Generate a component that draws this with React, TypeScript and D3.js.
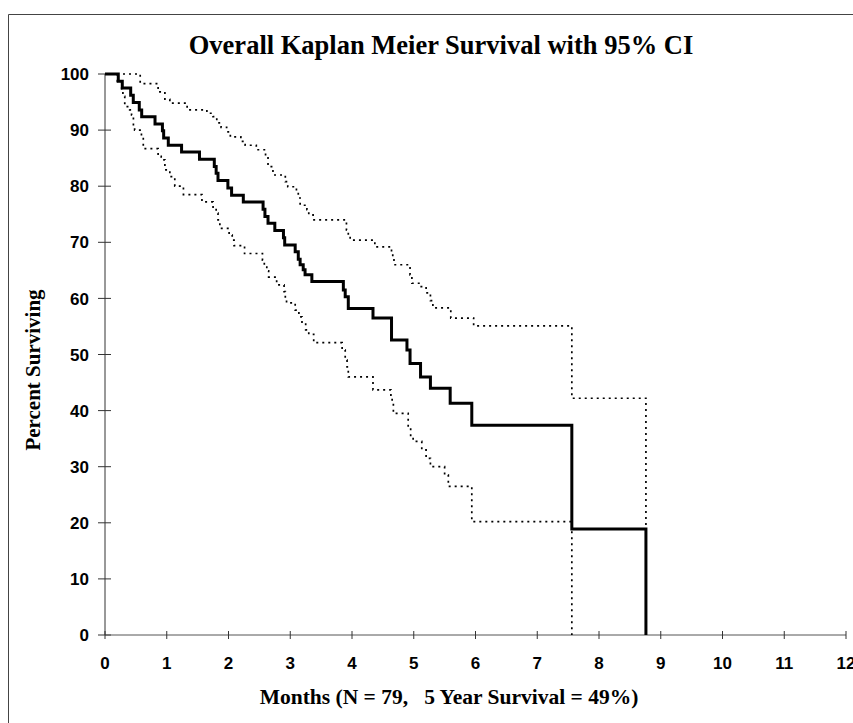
import React from "react";
import * as d3 from "d3";

// Kaplan-Meier estimate (months, percent surviving)
const kmTime = [0, 0.215, 0.28, 0.416, 0.458, 0.555, 0.594, 0.81, 0.93, 0.95, 1.025, 1.24, 1.53, 1.77, 1.8, 1.83, 1.99, 2.05, 2.24, 2.56, 2.59, 2.64, 2.75, 2.89, 2.91, 3.08, 3.13, 3.16, 3.21, 3.24, 3.35, 3.86, 3.89, 3.94, 4.34, 4.64, 4.89, 4.94, 5.11, 5.27, 5.59, 5.94, 7.56, 8.76];
const kmSurv = [100, 98.7, 97.5, 96.2, 94.9, 93.6, 92.4, 91.1, 89.9, 88.6, 87.3, 86.1, 84.8, 83.5, 82.3, 81.0, 79.7, 78.4, 77.2, 75.9, 74.6, 73.4, 72.1, 70.8, 69.5, 68.3, 67.0, 66.0, 65.1, 64.2, 63.0, 61.5, 60.3, 58.2, 56.5, 52.6, 50.8, 48.4, 46.0, 44.0, 41.3, 37.4, 18.9, 0];

// Upper 95% confidence limit
const upperTime = [0, 0.57, 0.86, 0.97, 1.05, 1.33, 1.65, 1.75, 1.81, 1.88, 1.97, 2.03, 2.2, 2.27, 2.45, 2.6, 2.64, 2.72, 2.92, 2.96, 3.1, 3.13, 3.16, 3.27, 3.3, 3.37, 3.91, 3.94, 3.97, 4.37, 4.64, 4.66, 4.68, 4.94, 4.97, 5.1, 5.2, 5.27, 5.31, 5.6, 5.97, 7.56, 8.76];
const upperSurv = [100, 98.3, 96.8, 95.5, 94.8, 93.6, 93.0, 92.4, 91.3, 90.5, 89.7, 88.8, 88.0, 87.3, 86.5, 85.3, 83.5, 82.0, 80.8, 79.9, 79.0, 77.9, 76.6, 75.8, 74.9, 74.0, 72.2, 71.3, 70.4, 69.2, 68.3, 67.2, 66.0, 64.2, 62.7, 62.1, 61.0, 59.6, 58.3, 56.5, 55.1, 42.2, 0];

// Lower 95% confidence limit
const lowerTime = [0, 0.2, 0.27, 0.29, 0.32, 0.4, 0.43, 0.46, 0.48, 0.59, 0.62, 0.86, 0.91, 0.97, 1.05, 1.13, 1.27, 1.57, 1.75, 1.8, 1.83, 1.86, 2.01, 2.06, 2.09, 2.26, 2.55, 2.58, 2.62, 2.65, 2.78, 2.9, 2.92, 2.94, 3.08, 3.14, 3.19, 3.25, 3.3, 3.38, 3.84, 3.89, 3.92, 3.94, 4.34, 4.63, 4.65, 4.67, 4.91, 4.95, 4.99, 5.13, 5.2, 5.27, 5.5, 5.56, 5.94, 7.56];
const lowerSurv = [100, 98.7, 97.4, 96.0, 94.2, 93.6, 92.7, 90.6, 90.0, 88.5, 86.7, 85.3, 84.7, 82.9, 81.7, 80.0, 78.5, 77.2, 76.1, 75.2, 74.0, 72.5, 71.3, 70.4, 69.4, 68.0, 66.8, 65.6, 64.9, 63.8, 62.4, 61.2, 60.0, 59.2, 57.9, 56.7, 55.6, 54.4, 53.6, 52.1, 50.8, 49.0, 47.8, 46.0, 43.7, 42.5, 41.3, 39.5, 37.1, 35.3, 34.5, 33.0, 31.5, 30.0, 28.5, 26.5, 20.2, 0];

const xTicks = [0, 1, 2, 3, 4, 5, 6, 7, 8, 9, 10, 11, 12];
const yTicks = [0, 10, 20, 30, 40, 50, 60, 70, 80, 90, 100];

const titleText = "Overall Kaplan Meier Survival with 95% CI";
const xTitleText = "Months (N = 79,   5 Year Survival = 49%)";
const yTitleText = "Percent Surviving";

export default function App() {
  const W = 853;
  const H = 723;
  const x = d3.scaleLinear().domain([0, 12]).range([105, 846]);
  const y = d3.scaleLinear().domain([0, 100]).range([635, 74]);
  const line = d3
    .line<[number, number]>()
    .x((d) => x(d[0]))
    .y((d) => y(d[1]))
    .curve(d3.curveStepAfter);
  const pts = (t: number[], s: number[]) => t.map((v, i) => [v, s[i]] as [number, number]);

  const serif = "'Liberation Serif', 'Times New Roman', serif";
  const sans = "'Liberation Sans', Arial, sans-serif";

  return (
    <svg
      width={W}
      height={H}
      style={{ position: "absolute", left: 0, top: 0, background: "#fff" }}
    >
      <rect x={0} y={0} width={W} height={H} fill="#fff" />
      {/* outer frame */}
      <path d={`M8.5,${H} V14.5 H${W}`} fill="none" stroke="#444" strokeWidth={1} />

      {/* title */}
      <text x={441} y={54} textAnchor="middle" fontFamily={serif} fontWeight="bold" fontSize={26.5}>
        {titleText}
      </text>

      {/* y axis */}
      <line x1={x(0)} x2={x(0)} y1={y(100)} y2={y(0)} stroke="#333" strokeWidth={1} />
      {yTicks.map((t) => (
        <g key={"y" + t}>
          <line x1={x(0) - 7} x2={x(0) + 6} y1={y(t)} y2={y(t)} stroke="#333" strokeWidth={1} />
          <text x={89} y={y(t)} dy="0.36em" textAnchor="end" fontFamily={sans} fontWeight="bold" fontSize={17}>
            {t}
          </text>
        </g>
      ))}

      {/* x axis */}
      <line x1={x(0)} x2={x(12)} y1={y(0)} y2={y(0)} stroke="#555" strokeWidth={1} />
      {xTicks.map((t) => (
        <g key={"x" + t}>
          <line x1={x(t)} x2={x(t)} y1={y(0) - 4} y2={y(0) + 4} stroke="#333" strokeWidth={1} />
          <text x={x(t)} y={669} textAnchor="middle" fontFamily={sans} fontWeight="bold" fontSize={17}>
            {t}
          </text>
        </g>
      ))}

      {/* axis titles */}
      <text x={449} y={704} textAnchor="middle" fontFamily={serif} fontWeight="bold" fontSize={21.5} style={{ whiteSpace: "pre" }}>
        {xTitleText}
      </text>
      <text
        transform={`translate(40,370) rotate(-90)`}
        textAnchor="middle"
        fontFamily={serif}
        fontWeight="bold"
        fontSize={21}
      >
        {yTitleText}
      </text>

      {/* confidence limits */}
      <path d={line(pts(upperTime, upperSurv)) || ""} fill="none" stroke="#000" strokeWidth={1.7} strokeDasharray="2,4" />
      <path d={line(pts(lowerTime, lowerSurv)) || ""} fill="none" stroke="#000" strokeWidth={1.7} strokeDasharray="2,4" />

      {/* survival curve */}
      <path d={line(pts(kmTime, kmSurv)) || ""} fill="none" stroke="#000" strokeWidth={3} />
    </svg>
  );
}
